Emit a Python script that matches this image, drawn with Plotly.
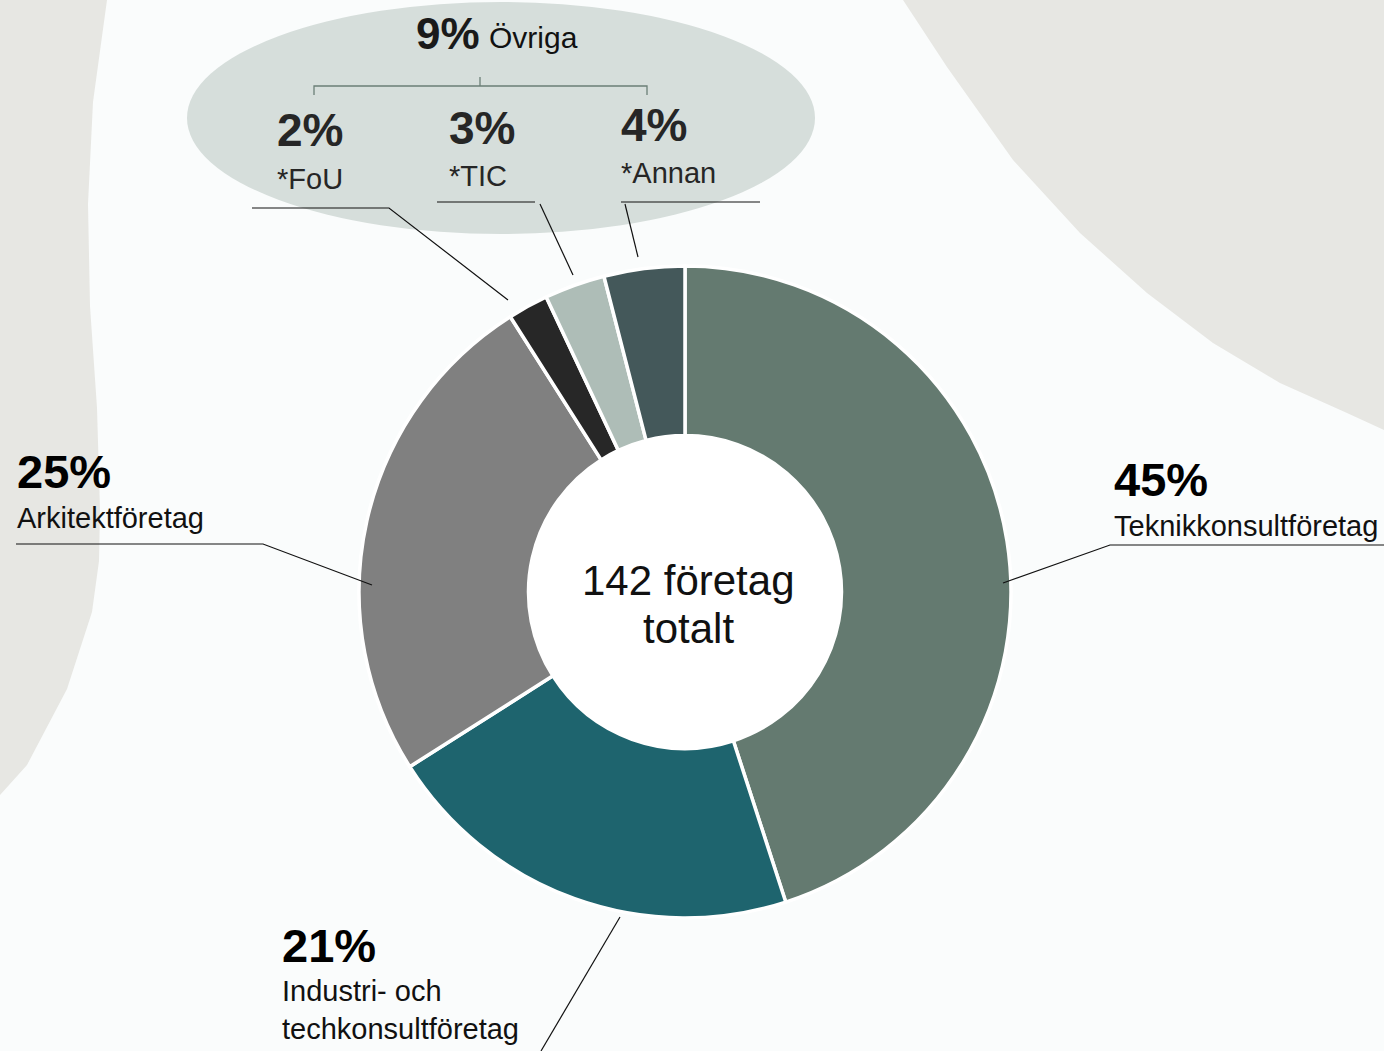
import plotly.graph_objects as go

# ---- data ----
categories = ["Teknikkonsultföretag", "Industri- och techkonsultföretag", "Arkitektföretag", "*FoU", "*TIC", "*Annan"]
values = [45, 21, 25, 2, 3, 4]
slice_colors = ["#647A70", "#1E646E", "#808080", "#272727", "#AEBDB7", "#44585A"]
pct_labels = ["45%", "21%", "25%", "2%", "3%", "4%"]
group_label = "Övriga"
group_pct = "9%"
center_lines = ["142 företag", "totalt"]

W, H = 1384, 1051
FONT = "Arial, Liberation Sans, sans-serif"

fig = go.Figure()

# pie placement (pixels)
cx, cy, R = 685, 592, 326
HOLE = 0.48
fig.add_trace(go.Pie(
    labels=categories, values=values, sort=False, direction="clockwise", rotation=0,
    hole=HOLE, marker=dict(colors=slice_colors, line=dict(color="white", width=3.5)),
    textinfo="none", hoverinfo="label+percent", showlegend=False,
    domain=dict(x=[(cx - R) / W, (cx + R) / W], y=[1 - (cy + R) / H, 1 - (cy - R) / H]),
))

shapes = []
# background blobs
left_blob = [(107, 0), (93, 102), (88, 204), (90, 306), (97, 408), (100, 510), (99, 561), (92, 612), (67, 689), (27, 765), (0, 795)]
p = "M 0,0 " + " ".join(f"L {x},{y}" for x, y in left_blob) + " Z"
shapes.append(dict(type="path", path=p, xref="x", yref="y", fillcolor="#E7E7E3", line=dict(width=0), layer="below"))
right_blob = [(903, 0), (947, 67), (1013, 160), (1080, 233), (1147, 293), (1213, 343), (1280, 383), (1347, 413), (1384, 430)]
p = " ".join(("M" if i == 0 else "L") + f" {x},{y}" for i, (x, y) in enumerate(right_blob)) + f" L {W},0 Z"
shapes.append(dict(type="path", path=p, xref="x", yref="y", fillcolor="#E7E7E3", line=dict(width=0), layer="below"))
# ellipse
shapes.append(dict(type="circle", xref="x", yref="y", x0=187, x1=815, y0=2, y1=234,
                   fillcolor="#D6DEDB", line=dict(width=0), layer="below"))
# white hole background
hr = R * HOLE + 2
shapes.append(dict(type="circle", xref="x", yref="y", x0=cx - hr, x1=cx + hr, y0=cy - hr, y1=cy + hr,
                   fillcolor="#FFFFFF", line=dict(width=0), layer="below"))
# bracket
bc = "#6B7F77"
shapes.append(dict(type="path", path="M 314,95 L 314,86 L 647,86 L 647,95", xref="x", yref="y",
                   line=dict(color=bc, width=1.3)))
shapes.append(dict(type="line", x0=480, x1=480, y0=77, y1=86, xref="x", yref="y", line=dict(color=bc, width=1.3)))

# leader lines
leaders = [
    [(16, 544), (263, 544), (372, 585)],
    [(1384, 545), (1110, 545), (1003, 583)],
    [(620, 917), (541, 1051)],
    [(252, 208), (389, 208), (508, 300)],
    [(437, 202), (535, 202)],
    [(540, 204), (573, 275)],
    [(621, 202), (760, 202)],
    [(625, 204), (638, 257)],
]
for pts in leaders:
    p = " ".join(("M" if i == 0 else "L") + f" {x},{y}" for i, (x, y) in enumerate(pts))
    shapes.append(dict(type="path", path=p, xref="x", yref="y", line=dict(color="#111111", width=1.2)))

annotations = []
def txt(t, x, y, size, bold=False, xanchor="left", color="#111111"):
    annotations.append(dict(text=f"<b>{t}</b>" if bold else t, x=x, y=y, xref="x", yref="y",
                            xanchor=xanchor, yanchor="middle", showarrow=False,
                            font=dict(family=FONT, size=size, color=color), align="left"))

# main labels
txt(pct_labels[2], 15, 471, 47, True, color="#000")
txt(categories[2], 15, 518, 29)
txt(pct_labels[0], 1112, 479, 47, True, color="#000")
txt(categories[0], 1112, 526, 29)
txt(pct_labels[1], 280, 945, 47, True, color="#000")
txt("Industri- och<br>techkonsultföretag", 280, 1010, 29)
# small group
txt(group_pct, 414, 33, 44, True, color="#1a1a1a")
txt(group_label, 487, 37, 30)
txt(pct_labels[3], 275, 130, 46, True, color="#262626")
txt(categories[3], 275, 179, 29, color="#262626")
txt(pct_labels[4], 447, 128, 46, True, color="#262626")
txt(categories[4], 447, 176, 29, color="#262626")
txt(pct_labels[5], 619, 125, 46, True, color="#262626")
txt(categories[5], 619, 173, 29, color="#262626")
# center
txt(center_lines[0], 688, 580, 42, xanchor="center")
txt(center_lines[1], 688, 628, 42, xanchor="center")

fig.update_layout(
    width=W, height=H, margin=dict(l=0, r=0, t=0, b=0),
    paper_bgcolor="#FAFCFC", plot_bgcolor="rgba(0,0,0,0)",
    xaxis=dict(range=[0, W], visible=False, fixedrange=True, domain=[0, 1]),
    yaxis=dict(range=[H, 0], visible=False, fixedrange=True, domain=[0, 1]),
    shapes=shapes, annotations=annotations, showlegend=False,
)
fig.write_html("out.html", config={"displayModeBar": False},
               post_script="document.body.style.margin='0px';document.body.style.overflow='hidden';")
